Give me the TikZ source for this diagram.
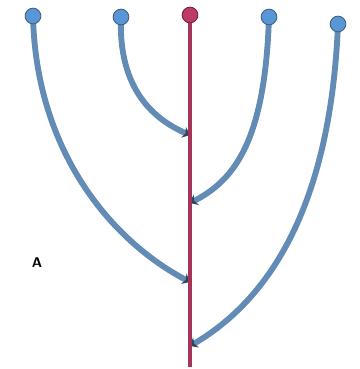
\documentclass[tikz,border=0pt]{standalone}
\usepackage{tikz}
\usetikzlibrary{positioning, arrows.meta, calc}
\definecolor{branchblue}{RGB}{98,140,182}
\definecolor{tipblue}{RGB}{88,150,215}
\definecolor{trunkred}{RGB}{165,52,88}
\definecolor{tipred}{RGB}{190,60,100}
\begin{document}
\begin{tikzpicture}[x=0.03cm, y=-0.03cm,
    leaf/.style={circle, draw=branchblue!70!black, fill=tipblue, line width=0.8pt, minimum size=0.47cm, inner sep=0pt},
    root/.style={circle, draw=trunkred!70!black, fill=tipred, line width=0.8pt, minimum size=0.47cm, inner sep=0pt},
    branch/.style={draw=branchblue, line width=5pt, -{Stealth[length=6pt, width=10pt, color=branchblue!50!black]}},
    trunk/.style={draw=trunkred, line width=3.6pt}]
    \useasboundingbox (0,0) rectangle (359,369);
    % main stem
    \coordinate (bottom) at (190,367);
    \coordinate (j1) at (190,135);
    \coordinate (j2) at (190,203);
    \coordinate (j3) at (190,282);
    \coordinate (j4) at (190,346);
    \draw[branch] (121,17) .. controls (118,90) and (155,120) .. (j1);
    \draw[branch] (269,17) .. controls (265,140) and (235,180) .. (j2);
    \draw[branch] (33,16) .. controls (36,150) and (110,240) .. (j3);
    \draw[branch] (338,24) .. controls (330,220) and (260,305) .. (j4);
    \node[root] (r) at (190,15) {};
    \draw[trunk] (r) -- (bottom);
    \node[leaf] (b1) at (33,16) {};
    \node[leaf] (b2) at (121,17) {};
    \node[leaf] (b3) at (269,17) {};
    \node[leaf] (b4) at (338,24) {};
    \node[font=\sffamily\bfseries\large] (lab) at (37,263) {A};
\end{tikzpicture}
\end{document}
